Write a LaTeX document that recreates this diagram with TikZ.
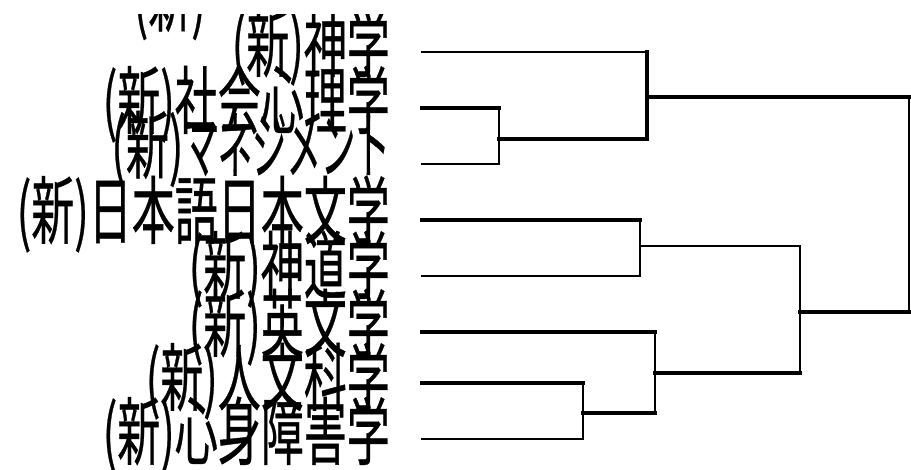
\documentclass[tikz,border=0pt]{standalone}
\usepackage{fontspec}
\usepackage{graphicx}
\newfontfamily\jp[FakeBold=0.6]{Noto Sans CJK JP}
\tikzset{
  lbl/.style={anchor=east, inner sep=0pt, font=\jp\fontsize{43}{43}\selectfont},
  twig/.style={line width=2.4pt, line cap=rect},
  bough/.style={line width=4pt, line cap=rect},
}
\newcommand{\tall}[1]{\scalebox{1}[1.72]{#1}}
\begin{document}
\begin{tikzpicture}[x=1pt,y=-1pt]
\useasboundingbox (0,0) rectangle (911,470);
% labels
\begin{scope}
\clip (0,15) rectangle (400,470);
\node[lbl] (t0) at (206,2) {\tall{(新)}};
\node[lbl] (t1) at (390,47) {\tall{(新)神学}};
\node[lbl] (t2) at (390,104) {\tall{(新)社会心理学}};
\node[lbl] (t3) at (390,149) {\tall{(新)\scalebox{0.8}[1]{マネジメント}}};
\node[lbl] (t4) at (390,214) {\tall{(新)日本語日本文学}};
\node[lbl] (t5) at (390,269) {\tall{(新)神道学}};
\node[lbl] (t6) at (390,327) {\tall{(新)英文学}};
\node[lbl] (t7) at (390,381) {\tall{(新)人文科学}};
\node[lbl] (t8) at (390,435) {\tall{(新)心身障害学}};
\end{scope}
% leaves
\coordinate (l1) at (422,52);
\coordinate (l2) at (422,108);
\coordinate (l3) at (422,164);
\coordinate (l4) at (422,220);
\coordinate (l5) at (422,276);
\coordinate (l6) at (422,332);
\coordinate (l7) at (422,383);
\coordinate (l8) at (422,439);
% joins
\coordinate (a) at (499,139);
\coordinate (b) at (647,97);
\coordinate (c) at (640,246);
\coordinate (d) at (583,413);
\coordinate (e) at (655,373);
\coordinate (f) at (800,312);
\coordinate (r) at (909,204);
% cluster a
\draw[bough] (l2) -- (l2 -| a);
\draw[twig] (l3) -- (l3 -| a);
\draw[twig] (l2 -| a) -- (l3 -| a);
% cluster b
\draw[twig] (l1) -- (l1 -| b);
\draw[bough] (a) -- (a -| b);
\draw[bough] (l1 -| b) -- (a -| b);
% cluster c
\draw[bough] (l4) -- (l4 -| c);
\draw[twig] (l5) -- (l5 -| c);
\draw[twig] (l4 -| c) -- (l5 -| c);
% cluster d
\draw[bough] (l7) -- (l7 -| d);
\draw[twig] (l8) -- (l8 -| d);
\draw[twig] (l7 -| d) -- (l8 -| d);
% cluster e
\draw[bough] (l6) -- (l6 -| e);
\draw[bough] (d) -- (d -| e);
\draw[twig] (l6 -| e) -- (d -| e);
% cluster f
\draw[twig] (c) -- (c -| f);
\draw[bough] (e) -- (e -| f);
\draw[twig] (c -| f) -- (e -| f);
% root
\draw[bough] (b) -- (b -| r);
\draw[bough] (f) -- (f -| r);
\draw[twig] (b -| r) -- (f -| r);
\end{tikzpicture}
\end{document}
